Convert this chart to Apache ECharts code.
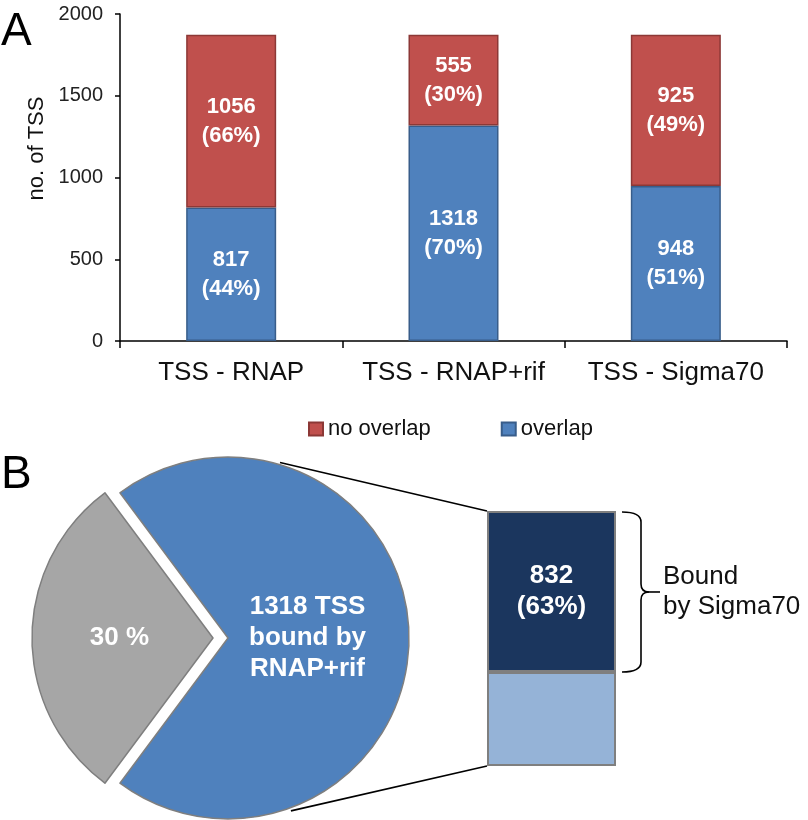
<!DOCTYPE html>
<html><head><meta charset="utf-8">
<script src="https://cdn.jsdelivr.net/npm/echarts@6/dist/echarts.min.js"></script>
<style>html,body{margin:0;padding:0;background:#fff}#c{width:808px;height:820px}</style>
</head><body><div id="c"></div>
<script>
// ---- Panel A data ----
const categories = ['TSS - RNAP', 'TSS - RNAP+rif', 'TSS - Sigma70'];
const overlap = [817, 1318, 948];
const overlapPct = [44, 70, 51];
const noOverlap = [1056, 555, 925];
const noOverlapPct = [66, 30, 49];
const yTickMin = 0, yTickMax = 2000, yTickStep = 500;
const legendNames = ['no overlap', 'overlap'];

// ---- Panel B data ----
const pieNames = ['not bound', 'bound by RNAP+rif'];
const pieValues = [555, 1318];
const pieLabels = ['30 %', '1318 TSS\nbound by\nRNAP+rif'];
const sigmaNames = ['not bound by Sigma70', 'Bound by Sigma70'];
const sigmaValues = [486, 832];
const sigmaLabels = ['', '832\n(63%)'];

const FONT = '"Liberation Sans", Arial, sans-serif';
const chart = echarts.init(document.getElementById('c'), null, {renderer: 'canvas'});

// layout constants
const pieC = [228, 638], pieR = 181;
const bL = 487, bT = 511, bW = 129, bH = 255;
const total = pieValues.reduce((a, b) => a + b, 0);
const sigmaTotal = sigmaValues.reduce((a, b) => a + b, 0);
const startAngle = 180 + 180 * pieValues[0] / total;

function circPt(deg, r) {
  const a = deg * Math.PI / 180;
  return [pieC[0] + r * Math.cos(a), pieC[1] - r * Math.sin(a)];
}
const pTop = circPt(73.5, pieR + 2), pBot = circPt(-70, pieR + 3);

// brace (spans the dark "bound by Sigma70" segment)
const bx0 = 622, bx1 = 641, tipX = 660;
const bTop = bT + 1, bBot = bT + bH * sigmaValues[1] / sigmaTotal, bMid = (bTop + bBot) / 2;
const braceStyle = {stroke: '#000', lineWidth: 1.6, fill: null};
const brace = [
  {type: 'bezierCurve', shape: {x1: bx0, y1: bTop, cpx1: bx1, cpy1: bTop, x2: bx1, y2: bTop + 10}, style: braceStyle},
  {type: 'line', shape: {x1: bx1, y1: bTop + 10, x2: bx1, y2: bMid - 8}, style: braceStyle},
  {type: 'bezierCurve', shape: {x1: bx1, y1: bMid - 8, cpx1: bx1, cpy1: bMid, x2: bx1 + 8, y2: bMid}, style: braceStyle},
  {type: 'bezierCurve', shape: {x1: bx1 + 8, y1: bMid, cpx1: bx1, cpy1: bMid, x2: bx1, y2: bMid + 8}, style: braceStyle},
  {type: 'line', shape: {x1: bx1 + 8, y1: bMid, x2: tipX, y2: bMid}, style: braceStyle},
  {type: 'line', shape: {x1: bx1, y1: bMid + 8, x2: bx1, y2: bBot - 10}, style: braceStyle},
  {type: 'bezierCurve', shape: {x1: bx1, y1: bBot - 10, cpx1: bx1, cpy1: bBot, x2: bx0, y2: bBot}, style: braceStyle}
];

const pieLabelBase = {show: true, position: 'inside', color: '#fff', fontWeight: 'bold', fontSize: 26, lineHeight: 31,
                      fontFamily: FONT, formatter: p => pieLabels[p.dataIndex]};

const option = {
  animation: false,
  backgroundColor: '#fff',
  textStyle: {fontFamily: FONT},
  legend: {
    data: legendNames, left: 303, top: 413, itemWidth: 14, itemHeight: 13, itemGap: 70, icon: 'rect',
    textStyle: {fontSize: 22, color: '#111', fontFamily: FONT}
  },
  grid: [
    {left: 120, right: 21, top: 14, height: 327},
    {left: bL, top: bT, width: bW, height: bH}
  ],
  xAxis: [
    {type: 'category', gridIndex: 0, data: categories,
     axisLine: {lineStyle: {color: '#000', width: 1.5}},
     axisTick: {show: true, length: 7, lineStyle: {color: '#000', width: 1.5}},
     axisLabel: {interval: 0, fontSize: 26, color: '#111', margin: 19, fontFamily: FONT}},
    {type: 'category', gridIndex: 1, data: ['RNAP+rif'], show: false}
  ],
  yAxis: [
    {type: 'value', gridIndex: 0, min: yTickMin, max: yTickMax, interval: yTickStep,
     name: 'no. of TSS', nameLocation: 'middle', nameGap: 54, nameRotate: 90,
     nameTextStyle: {fontSize: 22, color: '#111', fontFamily: FONT, padding: [0, 0, 0, 58]},
     axisLine: {show: true, lineStyle: {color: '#000', width: 1.5}},
     axisTick: {show: true, length: 5, lineStyle: {color: '#000', width: 1.5}},
     splitLine: {show: false},
     axisLabel: {fontSize: 20, color: '#222', margin: 17, fontFamily: FONT, formatter: v => String(v)}},
    {type: 'value', gridIndex: 1, min: 0, max: sigmaTotal, show: false}
  ],
  series: [
    {name: 'overlap', type: 'bar', stack: 'a', xAxisIndex: 0, yAxisIndex: 0, barWidth: 90,
     data: overlap,
     itemStyle: {color: '#4F81BD', borderColor: '#385D8A', borderWidth: 1.5},
     label: {show: true, position: 'inside', color: '#fff', fontWeight: 'bold', fontSize: 22, lineHeight: 29,
             fontFamily: FONT, formatter: p => p.value + '\n(' + overlapPct[p.dataIndex] + '%)'}},
    {name: 'no overlap', type: 'bar', stack: 'a', xAxisIndex: 0, yAxisIndex: 0, barWidth: 90,
     data: noOverlap,
     itemStyle: {color: '#C0504D', borderColor: '#8C3836', borderWidth: 1.5},
     label: {show: true, position: 'inside', color: '#fff', fontWeight: 'bold', fontSize: 22, lineHeight: 29,
             fontFamily: FONT, formatter: p => p.value + '\n(' + noOverlapPct[p.dataIndex] + '%)'}},
    {name: 'pie', type: 'pie', center: pieC, radius: pieR, startAngle: startAngle, clockwise: true,
     selectedMode: 'single', selectedOffset: 15, avoidLabelOverlap: false,
     emphasis: {disabled: true}, labelLine: {show: false},
     label: Object.assign({}, pieLabelBase, {offset: [-14, 0]}),
     data: [
       {name: pieNames[0], value: pieValues[0], selected: true,
        label: Object.assign({}, pieLabelBase, {offset: [-8, -4]}),
        itemStyle: {color: '#A6A6A6', borderColor: '#7F7F7F', borderWidth: 1.5},
        select: {itemStyle: {color: '#A6A6A6', borderColor: '#7F7F7F', borderWidth: 1.5}}},
       {name: pieNames[1], value: pieValues[1],
        itemStyle: {color: '#4F81BD', borderColor: '#7F7F7F', borderWidth: 1.5}}
     ]},
    {name: sigmaNames[0], type: 'bar', stack: 'b', xAxisIndex: 1, yAxisIndex: 1, barWidth: '100%',
     data: [sigmaValues[0]],
     itemStyle: {color: '#95B3D7', borderColor: '#7F7F7F', borderWidth: 2}},
    {name: sigmaNames[1], type: 'bar', stack: 'b', xAxisIndex: 1, yAxisIndex: 1, barWidth: '100%',
     data: [sigmaValues[1]],
     itemStyle: {color: '#1B365E', borderColor: '#7F7F7F', borderWidth: 2},
     label: {show: true, position: 'inside', color: '#fff', fontWeight: 'bold', fontSize: 26, lineHeight: 31,
             fontFamily: FONT, formatter: () => sigmaLabels[1]}}
  ],
  graphic: [
    {type: 'text', left: 1, top: 9, style: {text: 'A', font: '46px ' + FONT, fill: '#000'}},
    {type: 'text', left: 1, top: 452, style: {text: 'B', font: '46px ' + FONT, fill: '#000'}},
    {type: 'line', shape: {x1: pTop[0], y1: pTop[1], x2: bL, y2: bT}, style: {stroke: '#000', lineWidth: 1.6}},
    {type: 'line', shape: {x1: pBot[0], y1: pBot[1], x2: bL, y2: bT + bH}, style: {stroke: '#000', lineWidth: 1.6}},
    ...brace,
    {type: 'text', x: 663, y: 592, style: {text: 'Bound\nby Sigma70', font: '26px ' + FONT, fill: '#111',
      lineHeight: 30, verticalAlign: 'middle', align: 'left'}}
  ]
};
chart.setOption(option);
</script>
</body></html>
